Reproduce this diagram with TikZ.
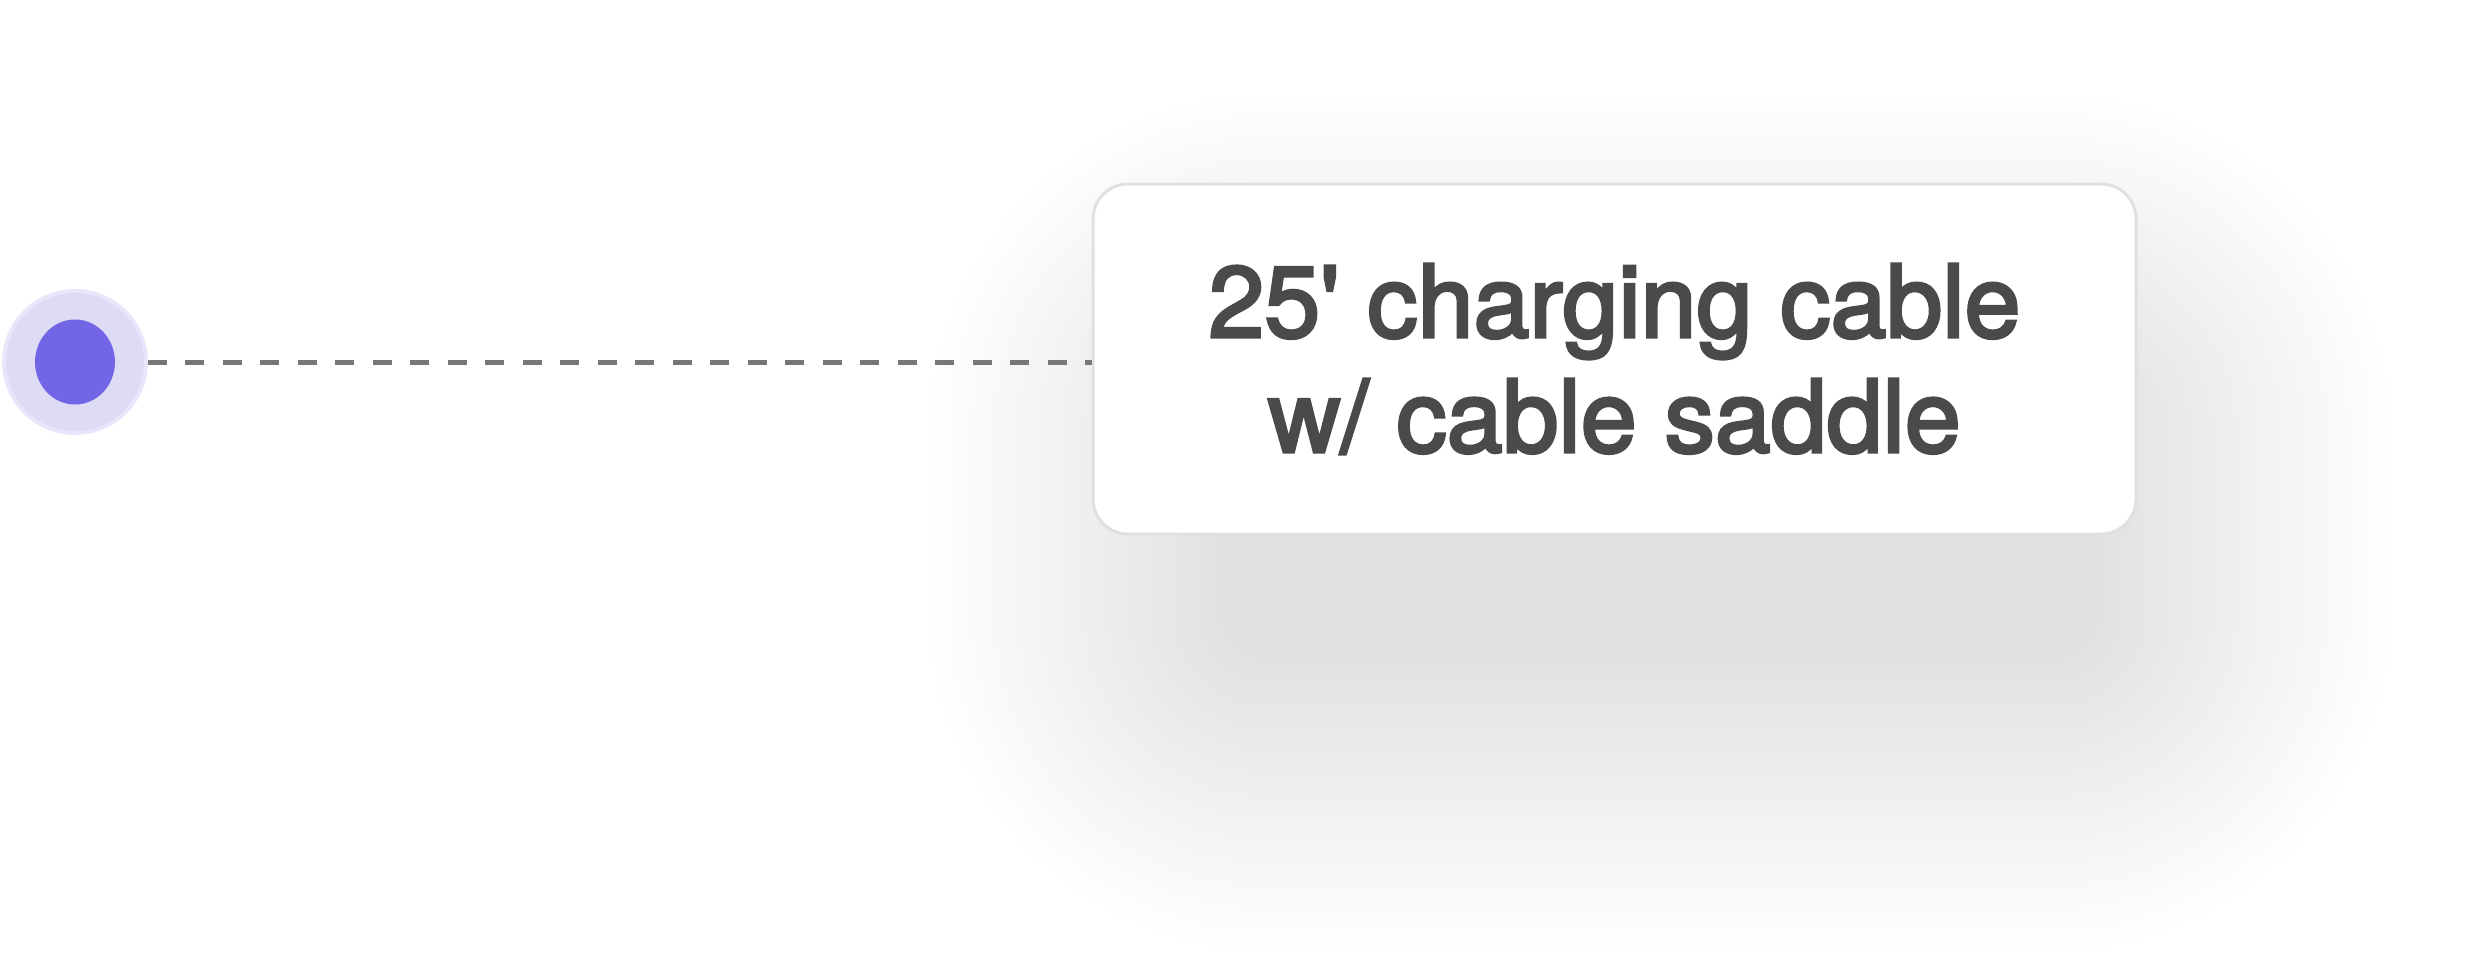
\documentclass[tikz,border=0pt]{standalone}
\usepackage{fontspec}
\setmainfont{TeX Gyre Heros}[FakeBold=3]
\usetikzlibrary{positioning,shapes.geometric}
\definecolor{ink}{HTML}{4A4A4A}
\definecolor{iris}{HTML}{7366E6}
\definecolor{lilac}{HTML}{DEDBF4}
\definecolor{lilacrim}{HTML}{E8E6FB}
\definecolor{rimgray}{HTML}{E0E0E0}
\definecolor{dashgray}{HTML}{777777}

\begin{document}
\begin{tikzpicture}[
  x=0.1mm,y=-0.1mm,
  every node/.style={font=\fontsize{28.6pt}{32.7pt}\selectfont},
  halo/.style={circle,fill=lilac,draw=lilacrim,line width=1.1pt,minimum size=14.2mm,inner sep=0pt},
  marker/.style={ellipse,fill=iris,minimum width=8mm,minimum height=8.5mm,inner sep=0pt},
  callout/.style={rectangle,rounded corners=3.5mm,draw=rimgray,line width=0.85pt,fill=white,
    minimum width=104.3mm,minimum height=35mm,align=center,text=ink},
  leader/.style={draw=dashgray,line width=1.42pt,dash pattern=on 1.9mm off 1.85mm}
]
\useasboundingbox (0,0) rectangle (2477,963);
\fill[white] (0,0) rectangle (2477,963);

% soft shadow under the callout
\foreach \k in {0,...,29} {
  \pgfmathsetmacro\rr{5+\k}
  \fill[black,opacity=0.0046,rounded corners=\rr mm]
    ({1220-10*\k},{385-10*\k}) rectangle ({2100+10*\k},{660+10*\k});
}

\node[halo] (ring) at (75,362) {};
\node[marker] (dot) at (ring.center) {};
\node[callout] (cbox) at (1614.5,359) {25\textquotesingle{} charging cable\\w/ cable saddle};
\draw[leader] (ring.east) -- (ring.east -| cbox.west);
\end{tikzpicture}
\end{document}
